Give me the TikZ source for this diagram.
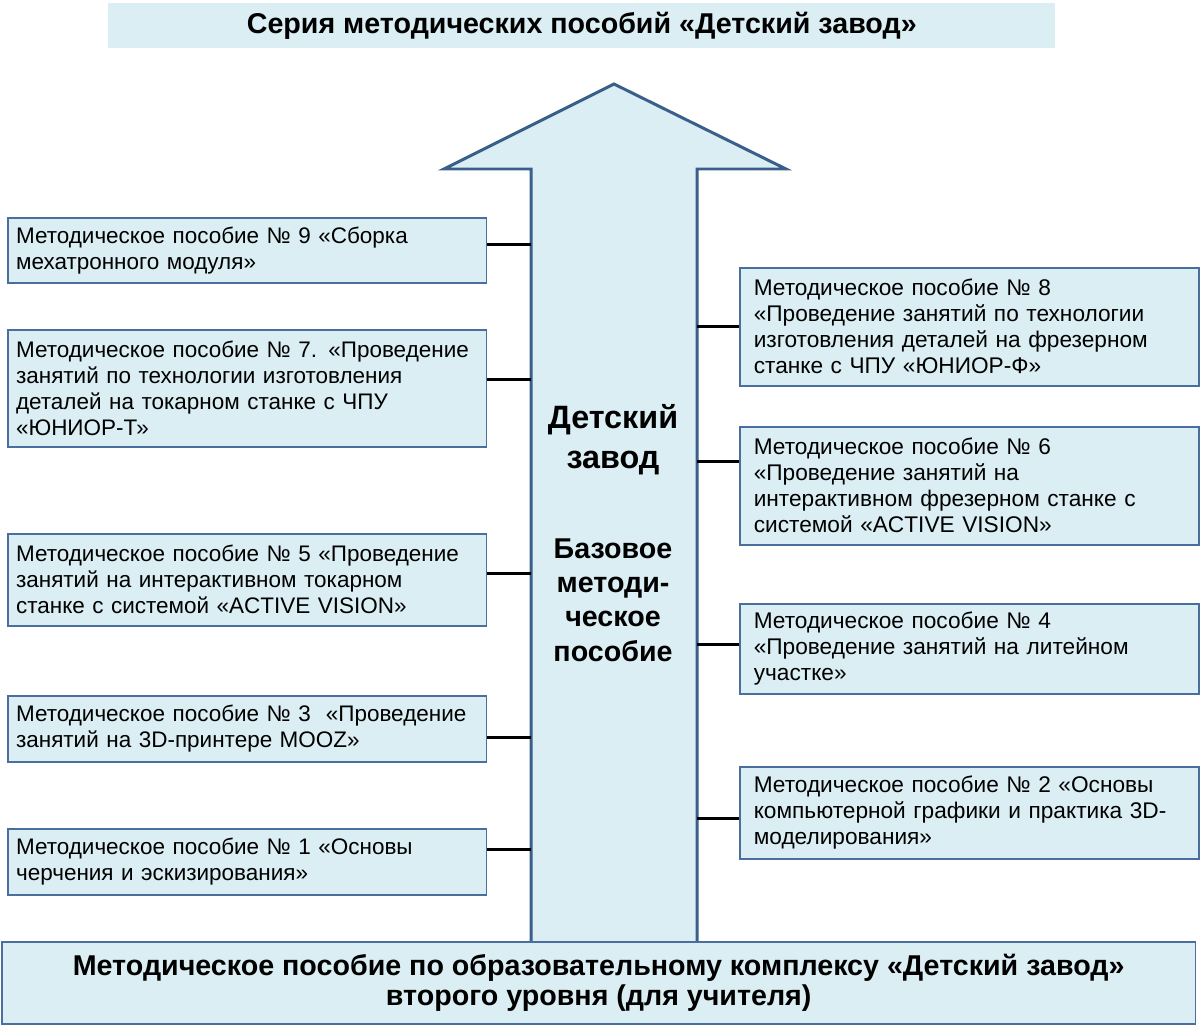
\documentclass[tikz,border=0pt]{standalone}
\usepackage{fontspec}
\setmainfont{Liberation Sans}

\definecolor{fon}{HTML}{DAEEF3}
\definecolor{rama}{HTML}{3A5F8B}
\definecolor{ramka}{HTML}{4A6E9E}

\begin{document}
\begin{tikzpicture}[x=0.02cm, y=-0.02cm,
  posobie/.style={draw=ramka, line width=0.9pt, fill=fon, inner sep=0pt, anchor=north west, align=left, font=\fontsize{12.8}{14.8}\selectfont},
  levo/.style={posobie, minimum width=9.58cm, text width=9.25cm},
  pravo/.style={posobie, minimum width=9.18cm, text width=8.62cm, font=\fontsize{12.9}{14.8}\selectfont},
  svyaz/.style={line width=1.6pt, black}]

\useasboundingbox (0,0) rectangle (1200,1025);

% заголовок серии
\node[fill=fon, inner sep=0pt, anchor=north west, minimum width=18.94cm, minimum height=0.9cm, font=\bfseries\fontsize{16.3}{18}\selectfont] (seriya) at (108,3) {Серия методических пособий «Детский завод»};

% большая стрелка
\filldraw[fill=fon, draw=rama, line width=1.7pt, line join=miter]
  (531,941) -- (531,169) -- (444,169) -- (614,84) -- (786,169) -- (697,169) -- (697,941);
\coordinate (strelkaL) at (531,500);
\coordinate (strelkaR) at (697,500);

\node[font=\bfseries\fontsize{18.4}{22.7}\selectfont, align=center] (zavod) at (613,440) {Детский\\завод};
\node[font=\bfseries\fontsize{16.3}{19.6}\selectfont, align=center] (baza) at (613,600) {Базовое\\методи-\\ческое\\пособие};

% пособия слева
\node[levo, minimum height=1.3cm] (p9) at (7,217) {Методическое пособие № 9 «Сборка\\мехатронного модуля»};
\node[levo, minimum height=2.34cm] (p7) at (7,329) {Методическое пособие № 7. «Проведение\\занятий по технологии изготовления\\деталей на токарном станке с ЧПУ\\«ЮНИОР-Т»};
\node[levo, minimum height=1.84cm] (p5) at (7,533) {Методическое пособие № 5 «Проведение\\занятий на интерактивном токарном\\станке с системой «ACTIVE VISION»};
\node[levo, minimum height=1.32cm] (p3) at (7,695) {Методическое пособие № 3 \ «Проведение\\занятий на 3D-принтере MOOZ»};
\node[levo, minimum height=1.32cm] (p1) at (7,828) {Методическое пособие № 1 «Основы\\черчения и эскизирования»};

% пособия справа
\node[pravo, minimum height=2.36cm] (p8) at (739,267) {Методическое пособие № 8\\«Проведение занятий по технологии\\изготовления деталей на фрезерном\\станке с ЧПУ «ЮНИОР-Ф»};
\node[pravo, minimum height=2.36cm] (p6) at (739,426) {Методическое пособие № 6\\«Проведение занятий на\\интерактивном фрезерном станке с\\системой «ACTIVE VISION»};
\node[pravo, minimum height=1.8cm] (p4) at (739,603) {Методическое пособие № 4\\«Проведение занятий на литейном\\участке»};
\node[pravo, minimum height=1.84cm] (p2) at (739,766) {Методическое пособие № 2 «Основы\\компьютерной графики и практика 3D-\\моделирования»};

% связи со стрелкой
\foreach \p/\dy in {p9/5.5, p7/8.5, p5/6, p3/-9, p1/12} {
  \coordinate (t) at ([yshift=\dy*0.02cm]\p.east);
  \draw[svyaz] (t) -- (t -| strelkaL);
}
\foreach \p/\dy in {p8/0, p6/24, p4/4, p2/-6} {
  \coordinate (t) at ([yshift=\dy*0.02cm]\p.west);
  \draw[svyaz] (t -| strelkaR) -- (t);
}

% основание
\node[posobie, align=center, minimum width=23.88cm, minimum height=1.64cm, font=\bfseries\fontsize{16.3}{17}\selectfont] (osnova) at (1,941) {Методическое пособие по образовательному комплексу «Детский завод»\\второго уровня (для учителя)};

\end{tikzpicture}
\end{document}
